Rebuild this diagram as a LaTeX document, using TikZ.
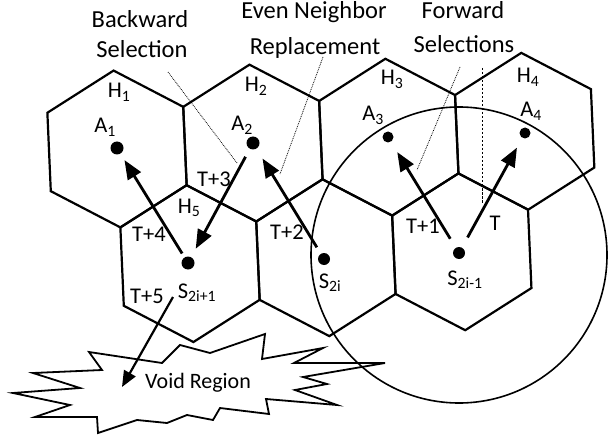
\documentclass[tikz,border=0pt]{standalone}
\usepackage{fontspec}
\setmainfont{Carlito}
\usetikzlibrary{arrows.meta}
\begin{document}
\begin{tikzpicture}[x=1pt,y=-1pt,
  hexline/.style={line width=2.2pt,line join=miter},
  circline/.style={line width=1.6pt},
  starline/.style={line width=1.8pt,fill=white,line join=miter},
  dot/.style={circle,fill=black,inner sep=0pt,minimum size=#1},
  dot/.default=12pt,
  arr/.style={line width=2.8pt,-{Triangle[length=19pt,width=15pt]}},
  varr/.style={line width=2.2pt,-{Triangle[length=16pt,width=13pt]}},
  head/.style={font=\fontsize{24.5}{28}\selectfont,inner sep=0pt,anchor=base},
  lbl/.style={font=\fontsize{22.5}{26}\selectfont,inner sep=0pt,anchor=base},
  leader/.style={line width=0.8pt,densely dotted},
  vleader/.style={line width=0.8pt,dash pattern=on 2.5pt off 1.5pt}]
\useasboundingbox (0,0) rectangle (609,438);
% hexagon centres
\coordinate (c1) at (117,149);
\coordinate (c2) at (252.9,143.1);
\coordinate (c3) at (388.8,137.2);
\coordinate (c4) at (524.7,131.3);
\coordinate (c5) at (190,263.6);
\coordinate (c6) at (325.9,257.7);
\coordinate (c7) at (461.8,251.8);
\foreach \c in {c1,c2,c3,c4,c5,c6,c7}{
  \begin{scope}[shift={(\c)}]
    \draw[hexline] (27.5:78.5) -- (87.5:78.5) -- (147.5:78.5) -- (207.5:78.5)
      -- (267.5:78.5) -- (327.5:78.5) -- cycle;
  \end{scope}
}
% void region
\draw[starline] (89,352) -- (102,370) -- (33,373) -- (80,388) -- (13,393) -- (70,405)
  -- (35,417) -- (97,417) -- (98,433) -- (137,420) -- (167,423) -- (187,415)
  -- (213,420) -- (220,408) -- (269,414) -- (266,399) -- (337,405) -- (295,390)
  -- (327,384) -- (303,377) -- (385,363) -- (294,363) -- (323,348) -- (262,359)
  -- (265,334) -- (210,353) -- (180,345) -- (162,363) -- cycle;
% coverage circle
\draw[circline] (459,255) circle[radius=148pt];
% headers
\node[head] (hback) at (140,28) {Backward};
\node[head] (hsel) at (142,58) {Selection};
\node[head] (heven) at (314,19) {Even Neighbor};
\node[head] (hrep) at (315,55) {Replacement};
\node[head] (hfwd) at (463,19) {Forward};
\node[head] (hsels) at (464,53) {Selections};
% hex labels
\node[lbl] (lh1) at (119,98) {H\textsubscript{1}};
\node[lbl] (lh2) at (256,92) {H\textsubscript{2}};
\node[lbl] (lh3) at (392,85) {H\textsubscript{3}};
\node[lbl] (lh4) at (528,83) {H\textsubscript{4}};
\node[lbl] (lh5) at (189,213) {H\textsubscript{5}};
% anchor / sensor labels
\node[lbl] (la1) at (105,133) {A\textsubscript{1}};
\node[lbl] (la2) at (242,131) {A\textsubscript{2}};
\node[lbl] (la3) at (373,121) {A\textsubscript{3}};
\node[lbl] (la4) at (531,117) {A\textsubscript{4}};
\node[lbl] (ls1) at (465,285) {S\textsubscript{2i-1}};
\node[lbl] (ls2) at (330,288) {S\textsubscript{2i}};
\node[lbl] (ls3) at (197,298) {S\textsubscript{2i+1}};
% step labels
\node[lbl] (t0) at (495,230) {T};
\node[lbl] (t1) at (423,233) {T+1};
\node[lbl] (t2) at (287,239) {T+2};
\node[lbl] (t3) at (214,186) {T+3};
\node[lbl] (t4) at (149,241) {T+4};
\node[lbl] (t5) at (147,303) {T+5};
\node[lbl,font=\fontsize{22}{26}\selectfont] (void) at (198,388) {Void Region};
% dots
\node[dot=13pt] (a1) at (117,148) {};
\node[dot=13pt] (a2) at (253,143) {};
\node[dot=11pt] (a3) at (388,137) {};
\node[dot=11pt] (a4) at (525,133) {};
\node[dot=12pt] (s1) at (459,253) {};
\node[dot=12pt] (s2) at (324,259) {};
\node[dot=13pt] (s3) at (188,263) {};
% arrows
\draw[arr,shorten <=11.5pt,shorten >=11pt] (s1) -- (a4);
\draw[arr,shorten <=10.5pt,shorten >=12pt] (s1) -- (a3);
\draw[arr,shorten <=7.5pt,shorten >=11.5pt] (s2) -- (a2);
\draw[arr,shorten <=9pt,shorten >=9.5pt] (a2) -- (s3);
\draw[arr,shorten <=4.5pt,shorten >=7.5pt] (s3) -- (a1);
\coordinate (vstart) at (173,297);
\coordinate (vtip) at (122,387);
\draw[varr] (vstart) -- (vtip);
% leaders
\coordinate (l1a) at (168,72);  \coordinate (l1b) at (237,163);
\coordinate (l2a) at (323,57);  \coordinate (l2b) at (280,174);
\coordinate (l3a) at (460,67);  \coordinate (l3b) at (417,170);
\coordinate (l4a) at (482,68);  \coordinate (l4b) at (482,204);
\draw[leader] (l1a) -- (l1b);
\draw[leader] (l2a) -- (l2b);
\draw[leader] (l3a) -- (l3b);
\draw[vleader] (l4a) -- (l4b);
\end{tikzpicture}
\end{document}
